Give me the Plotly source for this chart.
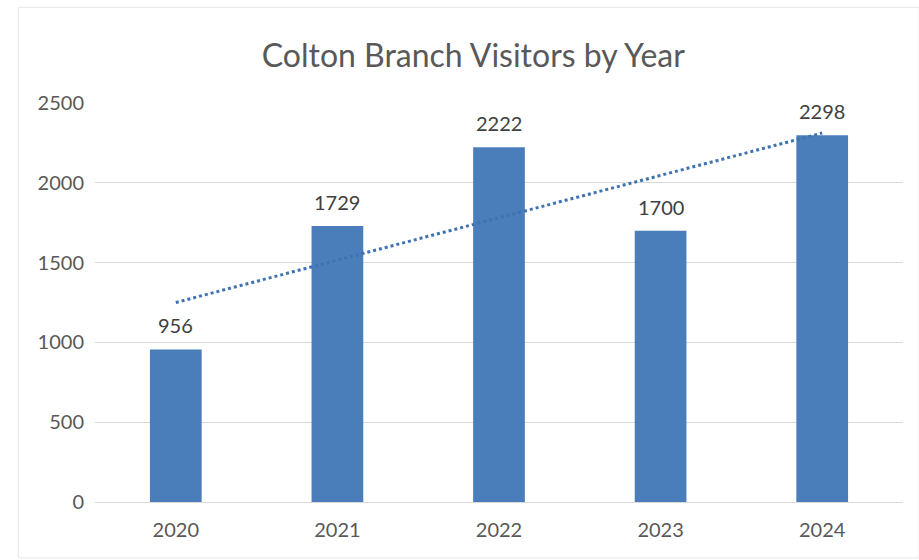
import numpy as np
import plotly.graph_objects as go

years = ["2020", "2021", "2022", "2023", "2024"]
visitors = [956, 1729, 2222, 1700, 2298]
y_ticks = [0, 500, 1000, 1500, 2000, 2500]

idx = np.arange(len(years))
slope, intercept = np.polyfit(idx, visitors, 1)
trend = slope * idx + intercept

FONT = "Lato, 'Open Sans', sans-serif"

fig = go.Figure()
fig.add_trace(go.Bar(
    x=years, y=visitors,
    marker=dict(color="#4A7EBB", line=dict(width=0)),
    showlegend=False,
))
fig.add_trace(go.Scatter(
    x=years, y=trend, mode="lines",
    line=dict(color="#3E72B0", width=3, dash="dot"),
    showlegend=False, hoverinfo="skip",
))

annotations = [
    dict(x=int(i), y=v, xref="x", yref="y", text=str(v), showarrow=False,
         yanchor="bottom", yshift=10,
         font=dict(size=20, color="#404040", family=FONT))
    for i, v in zip(idx, visitors)
]

fig.update_layout(
    width=919, height=560,
    paper_bgcolor="white", plot_bgcolor="white",
    margin=dict(l=95, r=16, t=103, b=58),
    bargap=0.68,
    title=dict(text="Colton Branch Visitors by Year", x=0.515, xanchor="center",
               y=0.9, yanchor="middle",
               font=dict(size=32, color="#595959", family=FONT)),
    font=dict(family=FONT),
    annotations=annotations,
    xaxis=dict(type="category", range=[-0.5, len(years) - 0.5], showgrid=False,
               showline=True, linecolor="#D9D9D9", linewidth=1,
               ticks="", tickfont=dict(size=20, color="#595959"), ticklabelstandoff=10),
    yaxis=dict(range=[0, 2500], tickvals=y_ticks, showgrid=True, gridcolor="#D9D9D9",
               gridwidth=1, zeroline=False, showline=False, ticks="",
               tickfont=dict(size=20, color="#595959"), ticklabelstandoff=10),
    shapes=[dict(type="rect", xref="paper", yref="paper", x0=-0.095, x1=1.02, y0=-0.14, y1=1.24,
                 line=dict(color="#E6E6E6", width=1))],
)
fig.write_html("out.html")
